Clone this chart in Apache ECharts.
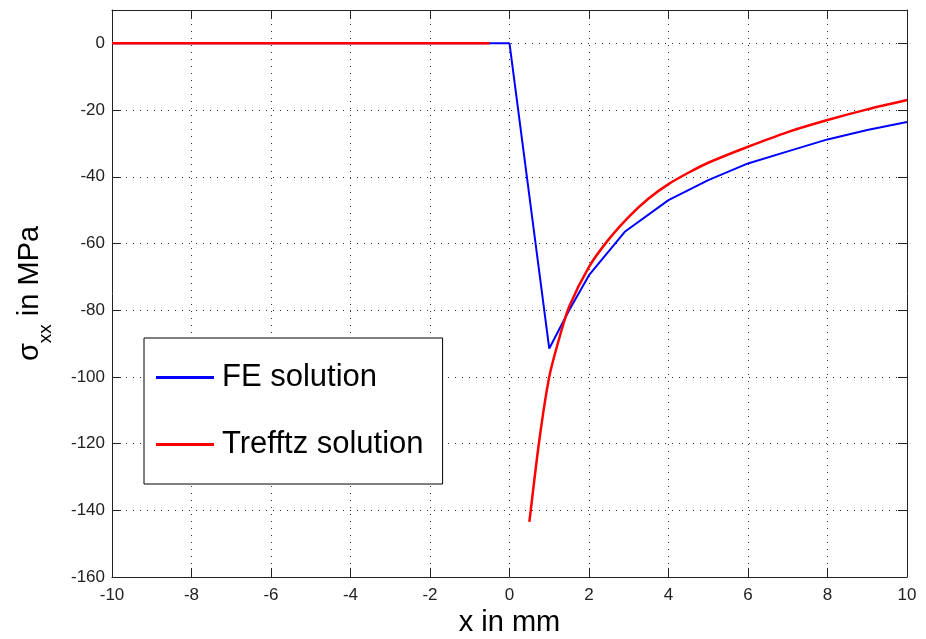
<!DOCTYPE html>
<html>
<head>
<meta charset="utf-8">
<script src="https://cdn.jsdelivr.net/npm/echarts@6/dist/echarts.min.js"></script>
<style>
  html, body { margin: 0; padding: 0; background: #fff; }
  #chart { width: 926px; height: 639px; }
</style>
</head>
<body>
<div id="chart"></div>
<script>
// FE solution (piecewise linear)
const feX = [-10, 0, 1, 1.5, 2, 2.9, 4, 5, 6, 7, 8, 9, 10];
const feY = [0, 0, -91.5, -80, -69.5, -56.5, -47, -41, -36, -32.4, -28.8, -26, -23.6];

// Trefftz solution (gap between -0.5 and 0.5)
const trX = [-10, -0.5, 0, 0.5, 0.75, 1, 1.25, 1.5, 2, 2.5, 3, 3.5, 4, 4.5, 5, 6, 7, 8, 9, 10];
const trY = [0, 0, null, -143.5, -119, -100, -88.5, -79, -67, -58.7, -52, -46.5, -42.2, -38.8, -35.8, -31, -26.6, -23, -19.8, -17];

const seriesNames = ['FE solution', 'Trefftz solution'];

const font = "'Liberation Sans', Arial, sans-serif";

const toPairs = (xs, ys) => xs.map((x, i) => [x, ys[i] === null ? '-' : ys[i]]);

const myChart = echarts.init(document.getElementById('chart'));

const dotted = { show: true, lineStyle: { color: '#333', width: 1, type: [1, 6] } };

myChart.setOption({
  backgroundColor: '#fff',
  animation: false,
  textStyle: { fontFamily: font },
  grid: { left: 112, right: 19, top: 10, bottom: 62, outerBoundsMode: 'none', containLabel: false },
  legend: {
    data: seriesNames,
    orient: 'vertical',
    left: 144,
    top: 338,
    padding: [24, 19, 24, 12],
    itemGap: 36,
    itemWidth: 58,
    itemHeight: 3,
    icon: 'rect',
    borderColor: '#000',
    borderWidth: 1,
    backgroundColor: '#fff',
    textStyle: { fontSize: 31, color: '#000', fontFamily: font, padding: [0, 0, 0, 3] }
  },
  xAxis: [
    {
      type: 'value', min: -10, max: 10, interval: 2, position: 'bottom',
      name: 'x in mm', nameLocation: 'middle', nameGap: 30,
      nameTextStyle: { fontSize: 29, color: '#000', fontFamily: font },
      axisLine: { show: true, onZero: false, lineStyle: { color: '#222', width: 1 } },
      axisTick: { show: true, inside: true, length: 9, lineStyle: { color: '#222' } },
      axisLabel: { fontSize: 17, color: '#222', margin: 10, fontFamily: font },
      splitLine: dotted
    },
    {
      type: 'value', min: -10, max: 10, interval: 2, position: 'top',
      axisLine: { show: true, onZero: false, lineStyle: { color: '#222', width: 1 } },
      axisTick: { show: true, inside: true, length: 9, lineStyle: { color: '#222' } },
      axisLabel: { show: false },
      splitLine: { show: false }
    }
  ],
  yAxis: [
    {
      type: 'value', min: -160, max: 10, interval: 20, position: 'left',
      name: '{a|σ}{sub|xx}{a| in MPa}', nameLocation: 'middle', nameGap: 57,
      nameRotate: 90,
      nameTextStyle: {
        fontFamily: font,
        rich: {
          a: { fontSize: 29, color: '#000', fontFamily: font, lineHeight: 34, verticalAlign: 'top' },
          sub: { fontSize: 19, color: '#000', fontFamily: font, lineHeight: 40, verticalAlign: 'bottom' }
        }
      },
      axisLine: { show: true, onZero: false, lineStyle: { color: '#222', width: 1 } },
      axisTick: { show: true, inside: true, length: 9, lineStyle: { color: '#222' } },
      axisLabel: { fontSize: 17, color: '#222', margin: 7, fontFamily: font, showMaxLabel: false },
      splitLine: dotted
    },
    {
      type: 'value', min: -160, max: 10, interval: 20, position: 'right',
      axisLine: { show: true, onZero: false, lineStyle: { color: '#222', width: 1 } },
      axisTick: { show: true, inside: true, length: 9, lineStyle: { color: '#222' } },
      axisLabel: { show: false },
      splitLine: { show: false }
    }
  ],
  series: [
    {
      name: seriesNames[0], type: 'line', showSymbol: false, symbol: 'none',
      color: '#0000ff',
      lineStyle: { color: '#0000ff', width: 2 },
      data: toPairs(feX, feY)
    },
    {
      name: seriesNames[1], type: 'line', showSymbol: false, symbol: 'none',
      color: '#ff0000', smooth: 0.25, connectNulls: false,
      lineStyle: { color: '#ff0000', width: 2.5 },
      data: toPairs(trX, trY)
    }
  ]
});

window.onresize = function () {
  myChart.resize();
};
</script>
</body>
</html>
